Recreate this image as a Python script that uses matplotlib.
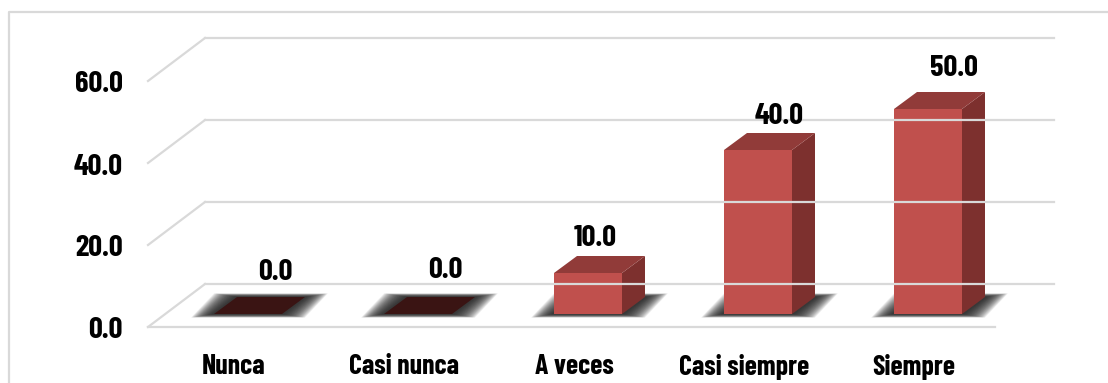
"""Oblique 3D-style column chart, drawn on one flat axes filling the figure."""
import matplotlib
matplotlib.use("Agg")
import matplotlib.pyplot as plt
from matplotlib.patches import Polygon, Rectangle
from matplotlib import font_manager

CATEGORIES = ["Nunca", "Casi nunca", "A veces", "Casi siempre", "Siempre"]
VALUES = [0.0, 0.0, 10.0, 40.0, 50.0]
Y_TICKS = [0, 20, 40, 60]

# where each value label sits relative to its bar front top, in px
LABEL_SHIFT_X = [27, 27, 7, 21, 26]
LABEL_SHIFT_Y = [41, 44, 35, 33, 40]

COLOUR_FRONT = "#C0504D"
COLOUR_TOP = "#913B39"
COLOUR_SIDE = "#7D302E"
COLOUR_FLAT = "#3A1413"
COLOUR_GRID = "#D9D9D9"

PX_PER_CAT = 170.0
PX_PER_UNIT = 4.1

# condensed DIN-like face, falling back to a family that is always there
names = {f.name for f in font_manager.fontManager.ttflist}
preferred = ["Barlow Condensed", "Roboto Condensed", "Liberation Sans Narrow", "Roboto"]
FONT = next(n for n in preferred if n in names)
plt.rcParams["font.family"] = [FONT, "DejaVu Sans"]

fig = plt.figure(figsize=(11.08, 3.83), dpi=100)
ax = fig.add_axes([0, 0, 1, 1])
# axis limits so one category is 170 px and one unit is 4.1 px
ax.set_xlim(-248 / PX_PER_CAT, (1108 - 248) / PX_PER_CAT)
ax.set_ylim(-69 / PX_PER_UNIT, 314 / PX_PER_UNIT)
ax.axis("off")

# depth of the floor and of the bars, in axis units
FLOOR_DX = 57 / PX_PER_CAT
FLOOR_DY = 43 / PX_PER_UNIT
BAR_DX = 23 / PX_PER_CAT
BAR_DY = 17 / PX_PER_UNIT
HALF_W = 34 / PX_PER_CAT

FLOOR_Y = -13 / PX_PER_UNIT
LEFT_X = -100 / PX_PER_CAT
FRONT_RIGHT = 747 / PX_PER_CAT
BACK_RIGHT = 806 / PX_PER_CAT

# outer border: only the left and top edges are inside the crop
BORDER_X = -239 / PX_PER_CAT
BORDER_Y = 302 / PX_PER_UNIT
ax.plot([BORDER_X, BORDER_X, 860 / PX_PER_CAT], [-69 / PX_PER_UNIT, BORDER_Y, BORDER_Y],
        color=COLOUR_GRID, lw=1.6)

# gridlines: diagonal on the side wall, then along the back wall
for tick in Y_TICKS:
    y = FLOOR_Y + tick
    ax.plot([LEFT_X, LEFT_X + FLOOR_DX], [y, y + FLOOR_DY], color=COLOUR_GRID, lw=1.6)
    ax.plot([LEFT_X + FLOOR_DX, BACK_RIGHT], [y + FLOOR_DY, y + FLOOR_DY], color=COLOUR_GRID, lw=1.6)
    ax.text(-125 / PX_PER_CAT, y - 4 / PX_PER_UNIT, f"{tick:.1f}", ha="right", va="center",
            fontsize=22, fontweight="bold", color="black")
ax.plot([LEFT_X, FRONT_RIGHT], [FLOOR_Y, FLOOR_Y], color=COLOUR_GRID, lw=1.6)


def parallelogram(x, y, pad_x=0.0, pad_y=0.0):
    """Floor footprint of a bar, optionally grown by a pad."""
    return [
        (x - HALF_W - pad_x, y - pad_y),
        (x + HALF_W + pad_x, y - pad_y),
        (x + HALF_W + BAR_DX + pad_x, y + BAR_DY + pad_y),
        (x - HALF_W + BAR_DX - pad_x, y + BAR_DY + pad_y),
    ]


for i, (cat, val) in enumerate(zip(CATEGORIES, VALUES)):
    # soft shadow: many stacked translucent footprints stand in for a blur
    for step in range(40, 0, -1):
        pad_x = (step * 0.55 + 1) / PX_PER_CAT
        pad_y = step * 0.09 / PX_PER_UNIT
        ax.add_patch(Polygon(parallelogram(i, 0, pad_x, pad_y), closed=True,
                             fc="#262626", ec="none", alpha=0.05))

    if val == 0:
        ax.add_patch(Polygon(parallelogram(i, 0), closed=True, fc=COLOUR_FLAT, ec="none"))
    else:
        ax.add_patch(Rectangle((i - HALF_W, 0), 2 * HALF_W, val, fc=COLOUR_FRONT, ec="none"))
        ax.add_patch(Polygon([(i + HALF_W, 0), (i + HALF_W + BAR_DX, BAR_DY),
                              (i + HALF_W + BAR_DX, val + BAR_DY), (i + HALF_W, val)],
                             closed=True, fc=COLOUR_SIDE, ec="none"))
        ax.add_patch(Polygon(parallelogram(i, val), closed=True, fc=COLOUR_TOP, ec="none"))

    ax.text(i + LABEL_SHIFT_X[i] / PX_PER_CAT, val + LABEL_SHIFT_Y[i] / PX_PER_UNIT, f"{val:.1f}",
            ha="center", va="center", fontsize=22, fontweight="bold", color="black", zorder=5)
    ax.text(i - 14 / PX_PER_CAT, -53 / PX_PER_UNIT, cat, ha="center", va="center",
            fontsize=20, fontweight="bold", color="black")

fig.savefig("out.png", dpi=100)
plt.close(fig)
